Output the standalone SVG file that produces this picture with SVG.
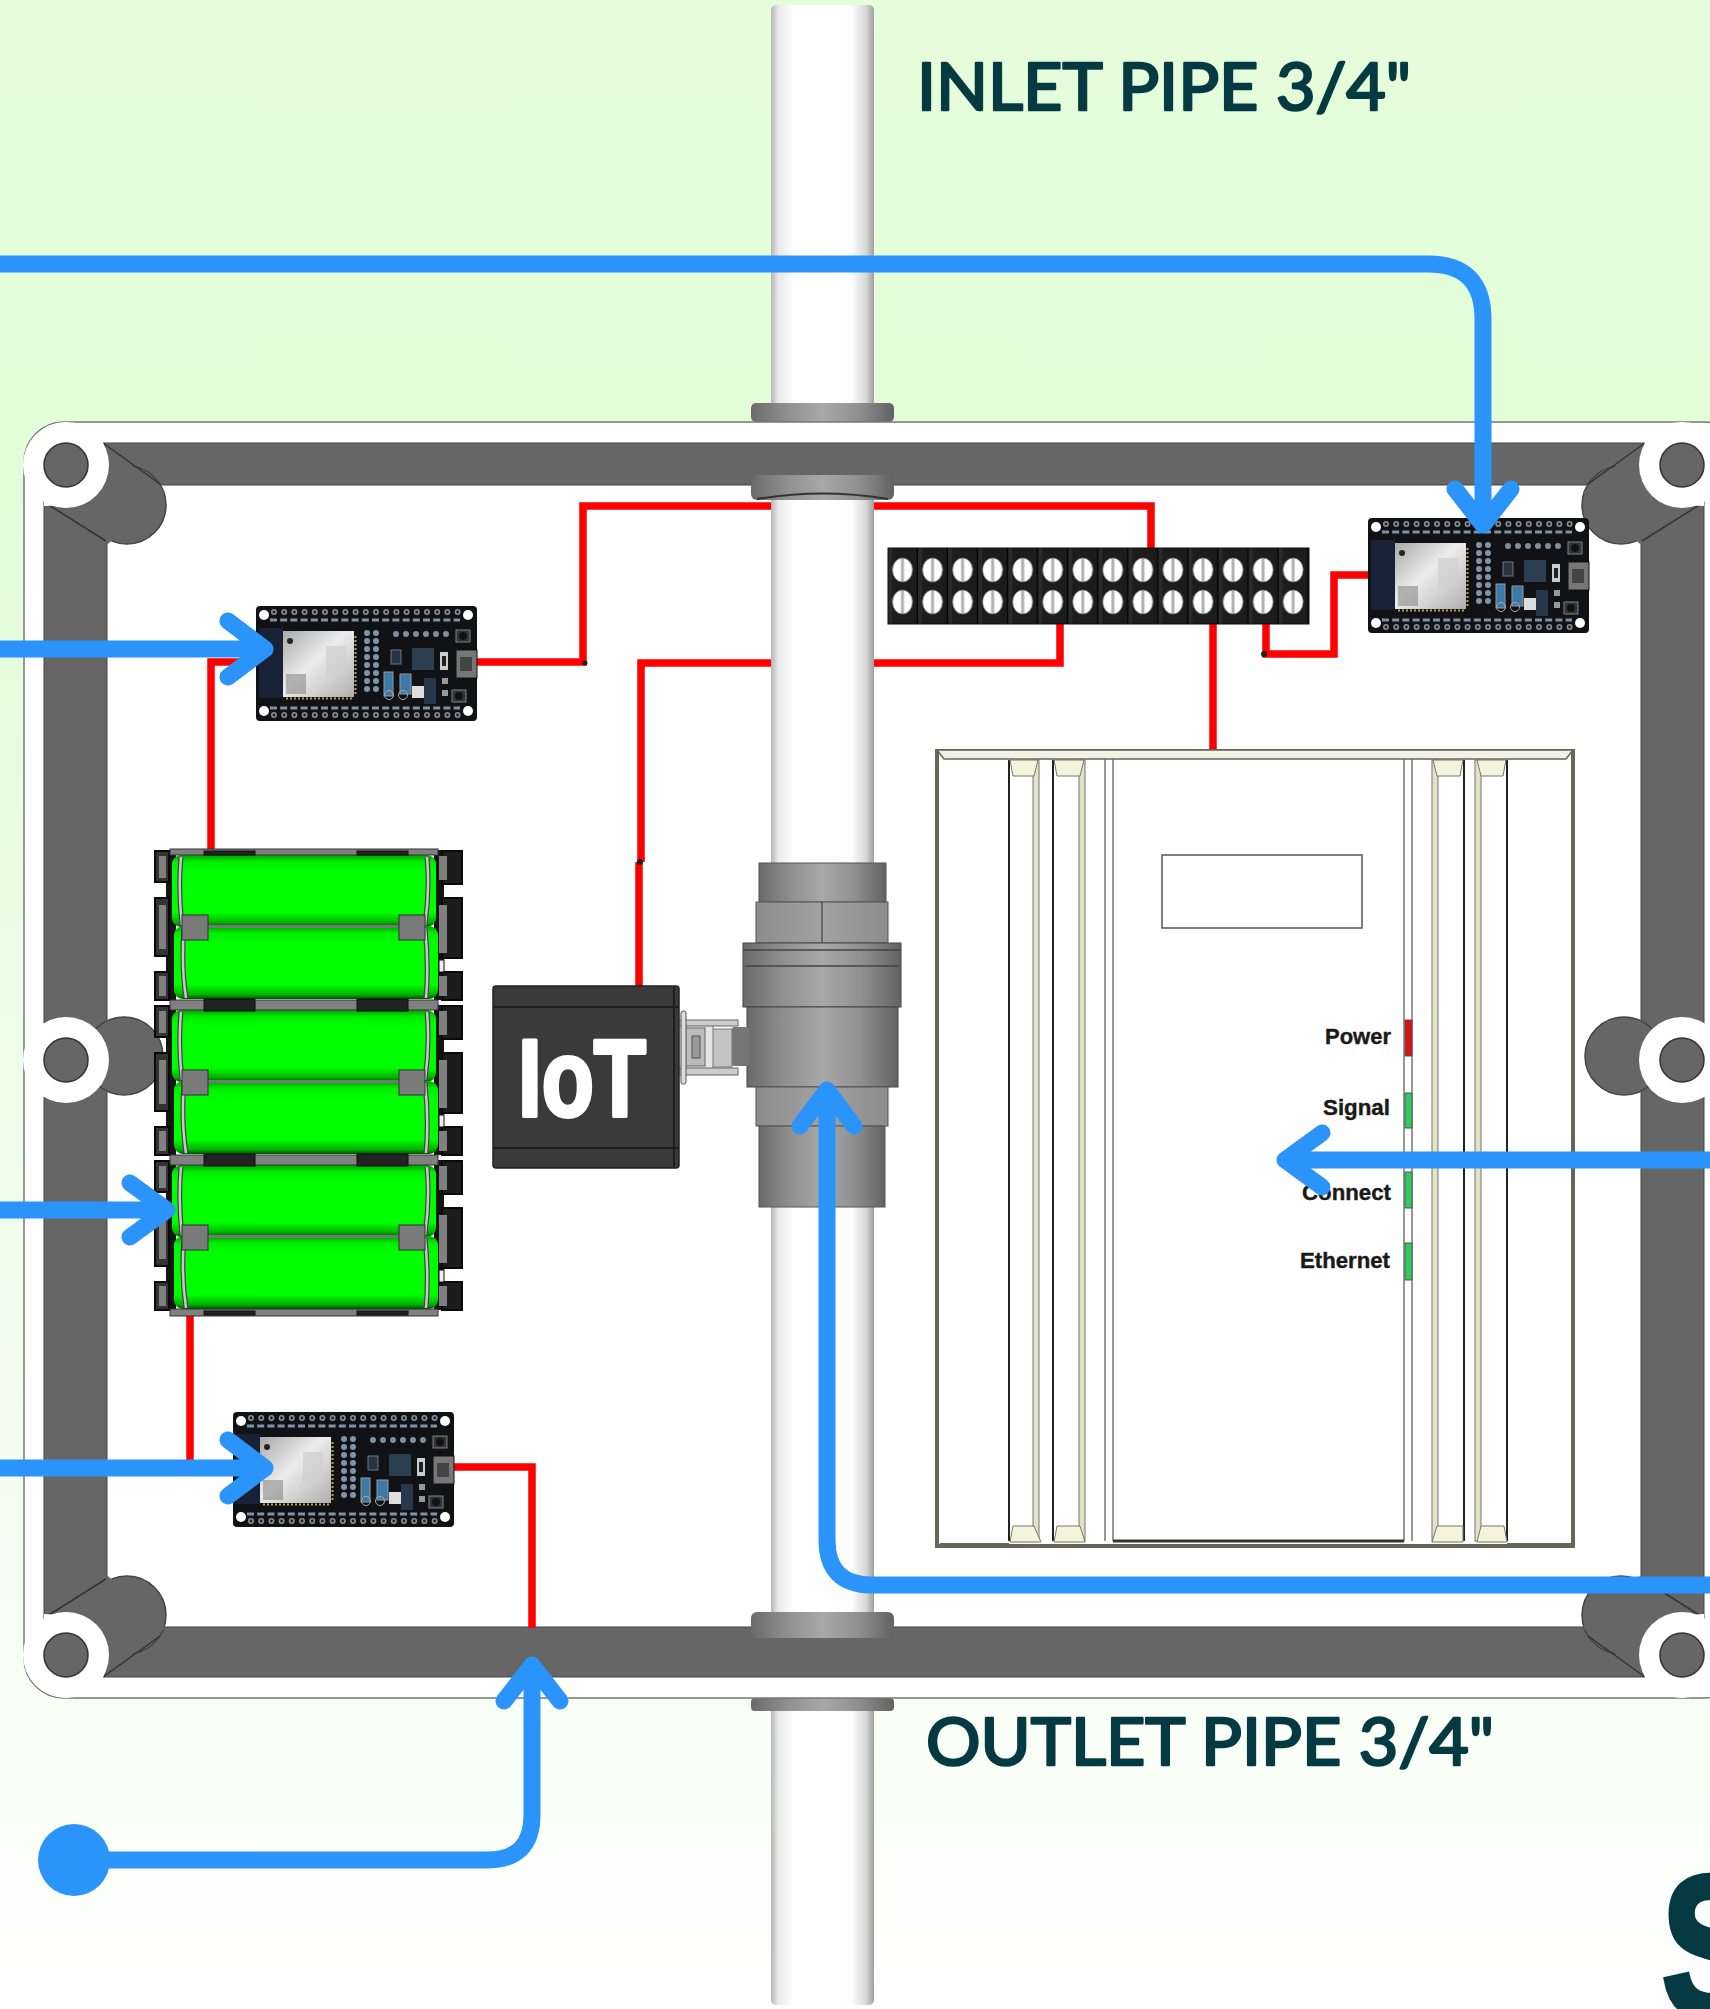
<svg xmlns="http://www.w3.org/2000/svg" xmlns:xlink="http://www.w3.org/1999/xlink" width="1710" height="2009" viewBox="0 0 1710 2009">
<style>
.wire{fill:none;stroke:#f00;stroke-width:7.5;stroke-linejoin:miter}
.arrow{fill:none;stroke:#2a94fb;stroke-width:17;stroke-linecap:round;stroke-linejoin:round}
.frame{fill:#666;stroke:#444;stroke-width:1.5}
.hole{fill:#666;stroke:#333;stroke-width:1.5}
.disc{fill:#fff}
.diag{stroke:#333;stroke-width:1.5;fill:none}
.title{font-family:"Lato","Open Sans",sans-serif;font-weight:400;font-size:65px;fill:#063a42;stroke:#063a42;stroke-width:2.5;stroke-linejoin:round}
.led{font-family:"Liberation Sans",Arial,sans-serif;font-weight:700;font-size:22px;fill:#1a1a1a;stroke:#1a1a1a;stroke-width:.4;text-anchor:end}
.rib{fill:none;stroke:#222;stroke-width:2}
.pale{fill:#e2e2c8;stroke:#77776a;stroke-width:1}
.vg{stroke:#333;stroke-width:1}
</style>
<defs>
<linearGradient id="bg" x1="0" y1="0" x2="0" y2="1">
<stop offset="0" stop-color="#e5fdda"/><stop offset=".25" stop-color="#e3fdd9"/><stop offset=".5" stop-color="#ecfde6"/><stop offset=".85" stop-color="#f8fef5"/><stop offset="1" stop-color="#fff"/>
</linearGradient>
<linearGradient id="pipe" x1="0" y1="0" x2="1" y2="0">
<stop offset="0" stop-color="#b5b5b5"/><stop offset=".07" stop-color="#e9e9e9"/><stop offset=".22" stop-color="#fff"/><stop offset=".78" stop-color="#fdfdfd"/><stop offset=".92" stop-color="#d8d8d8"/><stop offset="1" stop-color="#a0a0a0"/>
</linearGradient>
<linearGradient id="metal" x1="0" y1="0" x2="1" y2="0">
<stop offset="0" stop-color="#6a6a6a"/><stop offset=".25" stop-color="#8f8f8f"/><stop offset=".5" stop-color="#a8a8a8"/><stop offset=".75" stop-color="#909090"/><stop offset="1" stop-color="#626262"/>
</linearGradient>
<linearGradient id="hexg" x1="0" y1="0" x2="1" y2="0">
<stop offset="0" stop-color="#8c8c8c"/><stop offset=".5" stop-color="#a2a2a2"/><stop offset="1" stop-color="#8c8c8c"/>
</linearGradient>
<linearGradient id="cell" x1="0" y1="0" x2="0" y2="1">
<stop offset="0" stop-color="#00a000"/><stop offset=".1" stop-color="#00f000"/><stop offset=".25" stop-color="#0f0"/><stop offset=".8" stop-color="#0f0"/><stop offset=".94" stop-color="#00b000"/><stop offset="1" stop-color="#005000"/>
</linearGradient>
<linearGradient id="soc" x1="0" y1="0" x2="1" y2="1">
<stop offset="0" stop-color="#a8a8a8"/><stop offset=".45" stop-color="#ececec"/><stop offset="1" stop-color="#b0b0b0"/>
</linearGradient>
<pattern id="term" patternUnits="userSpaceOnUse" x="888" y="548" width="30.05" height="76">
<rect width="30.05" height="76" fill="#1c1c1c"/>
<rect x="28.8" width="1.25" height="76" fill="#000"/>
<rect x="0" width="4" height="76" fill="#2a2a2a"/>
<ellipse cx="14.5" cy="22" rx="10" ry="12" fill="#fff"/><rect x="13" y="10" width="3" height="24" fill="#b0b0b0"/><ellipse cx="14.5" cy="22" rx="10" ry="12" fill="none" stroke="#777" stroke-width=".7"/>
<ellipse cx="14.5" cy="54" rx="10" ry="12" fill="#fff"/><rect x="13" y="42" width="3" height="24" fill="#b0b0b0"/><ellipse cx="14.5" cy="54" rx="10" ry="12" fill="none" stroke="#777" stroke-width=".7"/>
</pattern>
<g id="esp">
<rect x="0" y="0" width="221" height="115" rx="4" fill="#101215"/>
<rect x="3" y="22" width="24" height="70" fill="#182236"/>
<line x1="18" y1="6" x2="204" y2="6" stroke="#8a8f96" stroke-width="6" stroke-linecap="round" stroke-dasharray="0 10.2"/>
<line x1="18" y1="6" x2="204" y2="6" stroke="#222" stroke-width="2.8" stroke-linecap="round" stroke-dasharray="0 10.2"/>
<line x1="18" y1="109" x2="204" y2="109" stroke="#8a8f96" stroke-width="6" stroke-linecap="round" stroke-dasharray="0 10.2"/>
<line x1="18" y1="109" x2="204" y2="109" stroke="#222" stroke-width="2.8" stroke-linecap="round" stroke-dasharray="0 10.2"/>
<line x1="14" y1="14" x2="204" y2="14" stroke="#7f93a8" stroke-width="3" stroke-dasharray="7 3.2"/>
<line x1="14" y1="102" x2="204" y2="102" stroke="#7f93a8" stroke-width="3" stroke-dasharray="7 3.2"/>
<circle cx="8" cy="9" r="5" fill="#fff"/><circle cx="212" cy="9" r="5" fill="#fff"/><circle cx="8" cy="105" r="5" fill="#fff"/><circle cx="212" cy="105" r="5" fill="#fff"/>
<rect x="27" y="25" width="71" height="66" fill="url(#soc)"/>
<circle cx="34" cy="35" r="3" fill="#222"/>
<rect x="70" y="40" width="20" height="30" fill="#cfcfcf" opacity=".7"/>
<rect x="30" y="68" width="20" height="20" fill="#777" opacity=".5"/>
<line x1="99.500" y1="30" x2="99.500" y2="90" stroke="#b8a25a" stroke-width="2" stroke-dasharray="2 2"/>
<line x1="30" y1="92.500" x2="98" y2="92.500" stroke="#b8a25a" stroke-width="2" stroke-dasharray="2 2"/>
<line x1="111" y1="27" x2="111" y2="85" stroke="#7f93a8" stroke-width="6" stroke-linecap="round" stroke-dasharray="0 8"/>
<line x1="120" y1="27" x2="120" y2="85" stroke="#7f93a8" stroke-width="6" stroke-linecap="round" stroke-dasharray="0 8"/>
<line x1="140" y1="28" x2="198" y2="28" stroke="#7f8e9c" stroke-width="6" stroke-linecap="round" stroke-dasharray="0 10"/>
<rect x="156" y="42" width="22" height="22" fill="#2b3f50"/>
<rect x="135" y="44" width="10" height="14" fill="#243442" stroke="#889" stroke-width=".8"/>
<rect x="184" y="46" width="8" height="18" fill="#ccc"/><rect x="186" y="50" width="4" height="10" fill="#222"/>
<rect x="200" y="44" width="21" height="28" fill="#777" stroke="#111"/><rect x="204" y="51" width="12" height="14" fill="#444"/>
<rect x="128" y="66" width="9" height="24" fill="#3c78a8" stroke="#999" stroke-width="1"/>
<rect x="144" y="68" width="11" height="20" fill="#3c78a8" stroke="#999" stroke-width="1"/>
<rect x="156" y="80" width="12" height="12" fill="#ddd"/>
<rect x="168" y="72" width="12" height="26" fill="#27384a"/>
<rect x="200" y="24" width="14" height="12" fill="#333" stroke="#999" stroke-width=".8"/><circle cx="207" cy="30" r="4" fill="#111"/>
<rect x="196" y="84" width="14" height="12" fill="#333" stroke="#999" stroke-width=".8"/><circle cx="203" cy="90" r="4" fill="#111"/>
<rect x="186" y="72" width="6" height="6" fill="#999"/><rect x="186" y="84" width="6" height="6" fill="#999"/>
<circle cx="133" cy="89" r="4.500" fill="none" stroke="#aaa" stroke-width="1"/><circle cx="147" cy="89" r="4.500" fill="none" stroke="#aaa" stroke-width="1"/>
</g>
<g id="batt">
<rect x="166" y="850" width="10" height="150" fill="#151515"/>
<rect x="434" y="850" width="10" height="150" fill="#151515"/>
<rect x="172" y="855" width="264" height="72" rx="9" fill="url(#cell)"/>
<rect x="174" y="926" width="264" height="73" rx="9" fill="url(#cell)"/>
<path d="M181 857Q178 890 182 925M184 928Q181 965 186 998M427 857Q430 890 425 925M425 928Q429 965 426 998" fill="none" stroke="#444" stroke-width="5"/>
<path d="M181 857Q178 890 182 925M184 928Q181 965 186 998M427 857Q430 890 425 925M425 928Q429 965 426 998" fill="none" stroke="#c8c8c8" stroke-width="2.500"/>
<rect x="206" y="925" width="195" height="3" fill="#777"/>
<rect x="182" y="915" width="26" height="25" fill="#7a7a7a" stroke="#333"/>
<rect x="399" y="915" width="26" height="25" fill="#7a7a7a" stroke="#333"/>
<g fill="#333" stroke="#0a0a0a" stroke-width="2">
<rect x="155" y="851" width="14" height="31"/><rect x="155" y="898" width="14" height="58"/><rect x="155" y="972" width="14" height="28"/>
</g>
<g fill="#1c1c1c" stroke="#0a0a0a" stroke-width="2">
<rect x="442" y="851" width="20" height="33"/><rect x="442" y="898" width="20" height="60"/><rect x="442" y="972" width="20" height="28"/>
</g>
<path d="M159 856h7v22h-7zM159 905h7v44h-7zM159 976h7v20h-7zM439 856h8v24h-8zM439 905h8v48h-8zM439 976h8v20h-8z" fill="#808080"/>
<rect x="439" y="960" width="5" height="12" fill="#eee" stroke="#111"/>
</g>
<g id="bossset">
<circle cx="127" cy="505" r="39" class="frame"/>
<path d="M103 443L165 492L108 544L44 502Z" fill="#666"/>
<path class="diag" d="M103 443L160 484M44 502L106 541"/>
<path d="M44 440H103Q112 505 44 506Z" fill="#fff" stroke="none"/>
<circle cx="66" cy="465" r="43" class="disc"/>
<circle cx="66" cy="465" r="22" class="hole"/>
</g>
<g id="midset">
<circle cx="124" cy="1056" r="39" class="frame"/>
<circle cx="66" cy="1060" r="43" class="disc"/>
<circle cx="66" cy="1060" r="22" class="hole"/>
</g>
</defs>
<rect id="background" width="1710" height="2009" fill="url(#bg)"/>
<g id="inlet-pipe"><rect x="771" y="5" width="103" height="405" rx="5" fill="url(#pipe)"/></g>
<g id="outlet-pipe"><rect x="771" y="1700" width="103" height="305" rx="5" fill="url(#pipe)"/></g>
<rect x="751" y="403" width="143" height="19" rx="5" fill="url(#metal)"/>
<rect x="751" y="1698" width="143" height="13" rx="4" fill="url(#metal)"/>
<g id="enclosure">
<rect x="24" y="422" width="1720" height="1276" rx="40" fill="#fff" stroke="#777" stroke-width="1.500"/>
<path fill-rule="evenodd" fill="#666" stroke="#444" d="M44 443H1704V1677H44ZM107 485V1627H1641V485Z"/>
<use href="#bossset"/>
<use href="#bossset" transform="translate(1748 0) scale(-1 1)"/>
<use href="#bossset" transform="translate(0 2120) scale(1 -1)"/>
<use href="#bossset" transform="translate(1748 2120) scale(-1 -1)"/>
<use href="#midset"/>
<use href="#midset" transform="translate(1748 0) scale(-1 1)"/>
</g>
<g id="red-wires">
<path class="wire" d="M477 662H583V506H1151V548"/>
<path class="wire" d="M1060 624V663H641V862"/>
<path class="wire" d="M639 862V986"/>
<path class="wire" d="M1213 624V749"/>
<path class="wire" d="M1266 624V654H1334V575H1370"/>
<path class="wire" d="M256 662H211V849"/>
<path class="wire" d="M190 1316V1465H233"/>
<path class="wire" d="M452 1467H532V1628"/>
<circle cx="585" cy="663" r="2.500" fill="#222"/>
<circle cx="640" cy="862" r="3" fill="#222"/>
<circle cx="1264" cy="654" r="3" fill="#222"/>
</g>
<g id="pipe-inner"><rect x="771" y="495" width="103" height="1125" fill="url(#pipe)"/></g>
<g id="flanges">
<rect x="751" y="475" width="143" height="25" rx="6" fill="url(#metal)"/>
<path d="M757 499Q822 488 888 499" fill="none" stroke="#333" stroke-width="2"/>
<rect x="751" y="1612" width="143" height="26" rx="6" fill="url(#metal)"/>
</g>
<g id="valve">
<rect x="759" y="863" width="127" height="39" fill="url(#metal)" stroke="#555"/>
<rect x="756" y="902" width="132" height="41" fill="url(#hexg)" stroke="#555"/>
<line x1="822" y1="902" x2="822" y2="943" class="vg"/>
<rect x="743" y="943" width="158" height="64" fill="url(#metal)" stroke="#444"/>
<path d="M743 950H901M745 966H899" stroke="#444" fill="none" stroke-width="1.500"/>
<rect x="747" y="1007" width="151" height="80" fill="url(#metal)" stroke="#444"/>
<rect x="756" y="1087" width="132" height="39" fill="url(#hexg)" stroke="#555"/>
<rect x="759" y="1126" width="126" height="81" fill="url(#metal)" stroke="#555"/>
</g>
<g id="actuator">
<rect x="732" y="1027" width="17" height="39" rx="2" fill="#777"/>
<rect x="711" y="1029" width="21" height="38" fill="#c4c4c4" stroke="#777"/>
<rect x="676" y="1023" width="37" height="48" fill="#e4e4e4" stroke="#777"/>
<rect x="685" y="1028" width="20" height="38" fill="#bbb" stroke="#666"/>
<rect x="692" y="1036" width="8" height="22" fill="#999" stroke="#555"/>
<rect x="673" y="1020" width="65" height="6" fill="#ccc" stroke="#666"/>
<rect x="673" y="1068" width="65" height="7" fill="#ccc" stroke="#666"/>
<rect x="681" y="1011" width="5" height="73" rx="2" fill="#ddd" stroke="#555"/>
</g>
<g id="iot-module">
<rect x="493" y="986" width="186" height="182" rx="3" fill="#3a3a3a" stroke="#222" stroke-width="1.500"/>
<path d="M493 1007H679M493 1148H679M674 987V1167" stroke="#1e1e1e" stroke-width="2" fill="none"/>
<text x="518" y="1116" font-family="Liberation Sans,Arial,sans-serif" font-weight="700" font-size="110" fill="#fff" stroke="#fff" stroke-width="4" stroke-linejoin="round" textLength="128" lengthAdjust="spacingAndGlyphs">IoT</text>
</g>
<g id="esp-board-1"><use href="#esp" x="256" y="606"/></g>
<g id="esp-board-2"><use href="#esp" x="233" y="1412"/></g>
<g id="esp-board-3"><use href="#esp" x="1368" y="518"/></g>
<g id="battery-pack">
<use href="#batt"/><use href="#batt" y="155"/><use href="#batt" y="310"/>
<g fill="#808080" stroke="#333">
<rect x="170" y="849" width="268" height="6"/><rect x="170" y="1000" width="268" height="10"/><rect x="170" y="1155" width="268" height="10"/><rect x="170" y="1309" width="268" height="7"/>
</g>
<g fill="#222" stroke="#111">
<rect x="204" y="851" width="51" height="4"/><rect x="357" y="851" width="51" height="4"/>
<rect x="204" y="999" width="51" height="12"/><rect x="357" y="999" width="51" height="12"/>
<rect x="204" y="1154" width="51" height="12"/><rect x="357" y="1154" width="51" height="12"/>
<rect x="204" y="1311" width="51" height="4"/><rect x="357" y="1311" width="51" height="4"/>
</g>
</g>
<g id="terminal-block">
<rect x="888" y="548" width="421" height="76" fill="url(#term)" stroke="#111"/>
</g>
<g id="controller">
<rect x="937" y="751" width="636" height="795" fill="#fff" stroke="#66665a" stroke-width="4"/>
<path d="M937 750H1573L1566 759H944Z" fill="#f2f2e6" stroke="#66665a" stroke-width="1.500"/>
<g>
<path class="rib" d="M1009 760V1541M1053 760V1541M1464 760V1541M1507 760V1541"/>
<rect x="1033" y="760" width="6" height="781" class="pale"/>
<rect x="1079" y="760" width="6" height="781" class="pale"/>
<rect x="1432" y="760" width="6" height="781" class="pale"/>
<rect x="1475" y="760" width="6" height="781" class="pale"/>
<path fill="#f4f4dc" stroke="#77776a" d="M1010 760H1038L1034 776H1013ZM1054 760H1084L1080 776H1057ZM1433 760H1463L1460 776H1437ZM1477 760H1506L1503 776H1481Z"/>
<path fill="#f4f4dc" stroke="#77776a" d="M1010 1542L1013 1526H1034L1041 1542ZM1054 1542L1057 1526H1080L1085 1542ZM1432 1542L1437 1526H1463V1542ZM1477 1542L1481 1526H1504L1507 1542Z"/>
<path d="M1105 758V1541M1113 758V1541M1404 758V1541M1412 758V1541" stroke="#777" stroke-width="1.500" fill="none"/>
<path d="M1113 1541H1404" stroke="#333" stroke-width="3"/>
<path d="M940 1544H1009M1507 1544H1571" stroke="#66665a" stroke-width="2"/>
</g>
<rect x="1162" y="855" width="200" height="73" fill="#fff" stroke="#555" stroke-width="1.500"/>
<rect x="1405" y="1020" width="7" height="36" fill="#e01010" stroke="#555"/>
<rect x="1405" y="1093" width="7" height="35" fill="#2ecc5a" stroke="#555"/>
<rect x="1405" y="1172" width="7" height="36" fill="#2ecc5a" stroke="#555"/>
<rect x="1405" y="1243" width="7" height="37" fill="#2ecc5a" stroke="#555"/>
<text class="led" x="1391" y="1044" textLength="66" lengthAdjust="spacingAndGlyphs">Power</text>
<text class="led" x="1390" y="1115" textLength="67" lengthAdjust="spacingAndGlyphs">Signal</text>
<text class="led" x="1391" y="1200" textLength="89" lengthAdjust="spacingAndGlyphs">Connect</text>
<text class="led" x="1390" y="1268" textLength="90" lengthAdjust="spacingAndGlyphs">Ethernet</text>
</g>
<g id="connectors">
<path class="arrow" d="M-10 264H1428Q1483 264 1483 319V525M1455 489L1483 525L1511 489"/>
<path class="arrow" d="M-10 649H265M228 621L265 649L228 677"/>
<path class="arrow" d="M-10 1210H167M130 1183L167 1210L130 1237"/>
<path class="arrow" d="M-10 1468H265M228 1440L265 1468L228 1496"/>
<path class="arrow" d="M1720 1160H1285M1322 1133L1285 1160L1322 1187"/>
<path class="arrow" d="M1720 1585H872Q827 1585 827 1540V1090M800 1126L827 1090L854 1126"/>
<path class="arrow" d="M74 1860H487Q532 1860 532 1815V1665M504 1701L532 1665L560 1701"/>
<circle cx="74" cy="1860" r="36" fill="#2a94fb"/>
</g>
<text id="inlet-label" class="title" x="917" y="110" textLength="494" lengthAdjust="spacingAndGlyphs">INLET PIPE 3/4"</text>
<text id="outlet-label" class="title" x="926" y="1765" textLength="568" lengthAdjust="spacingAndGlyphs">OUTLET PIPE 3/4"</text>
<text id="corner-letter" transform="translate(1662 2016) scale(.75 1)" font-family="Liberation Sans,Arial,sans-serif" font-weight="700" font-size="200" fill="#063a42" stroke="#063a42" stroke-width="7">S</text>
</svg>
